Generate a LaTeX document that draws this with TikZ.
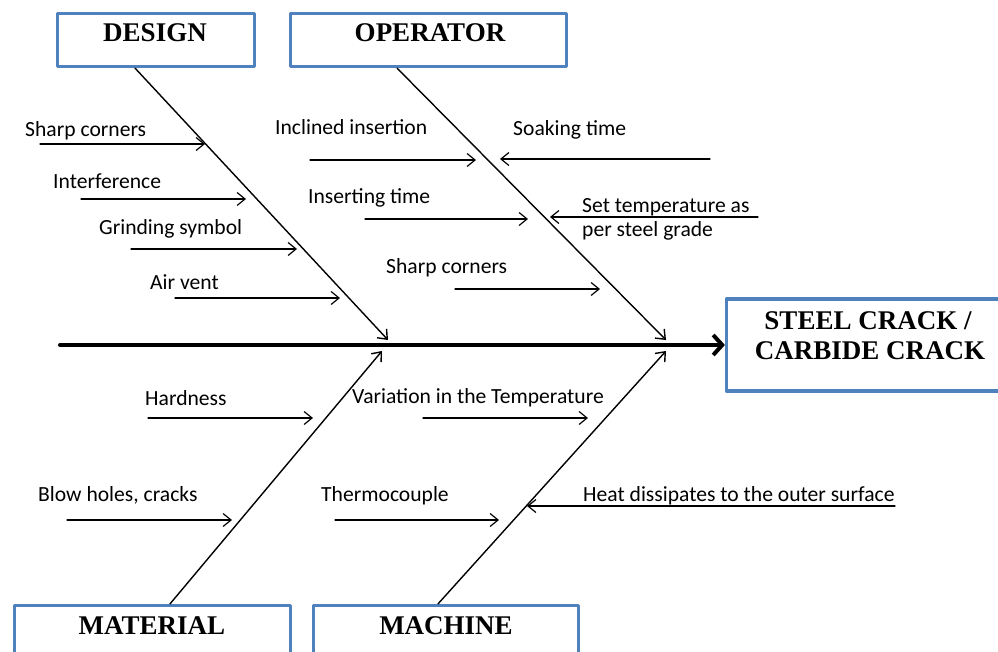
\documentclass[tikz,border=0pt]{standalone}
\usepackage{fontspec}
\setmainfont{Liberation Serif}
\newfontfamily\causefont{Carlito}
\usetikzlibrary{arrows.meta}
\definecolor{boxblue}{RGB}{79,129,189}
\tikzset{
	catbox/.style={draw=boxblue,line width=3.2pt,inner sep=0pt},
	cattext/.style={font=\fontsize{27}{30}\selectfont\bfseries,inner sep=0pt,anchor=base},
	causetext/.style={font=\causefont\fontsize{21.6}{24}\selectfont,inner sep=0pt,anchor=base west},
	cause/.style={line width=1.2pt,-{Straight Barb[length=8pt,width=13pt]}},
	bone/.style={line width=1.4pt,-{Straight Barb[length=8pt,width=13pt]}},
	spine/.style={line width=4pt,-{Straight Barb[length=9pt,width=20pt]}}
}

\begin{document}
\begin{tikzpicture}[line cap=round,line join=round,x=1pt,y=-1pt]
		\useasboundingbox (0,0) rectangle (998,652);
		\clip (0,0) rectangle (998,652);
		\node[catbox,minimum width=197,minimum height=53] (design) at (156,40) {};
		\node[catbox,minimum width=276,minimum height=53] (operator) at (428.5,40) {};
		\node[catbox,minimum width=276,minimum height=60] (material) at (152.5,635.5) {};
		\node[catbox,minimum width=265,minimum height=60] (machine) at (446,635.5) {};
		\node[catbox,minimum width=285,minimum height=92] (effect) at (869,345) {};
		\node[cattext] (designlbl) at (155,42) {DESIGN};
		\node[cattext] (operatorlbl) at (430,42) {OPERATOR};
		\node[cattext] (materiallbl) at (152,634) {MATERIAL};
		\node[cattext] (machinelbl) at (446,634) {MACHINE};
		\node[cattext] (effectlbla) at (868,329) {STEEL CRACK /};
		\node[cattext] (effectlblb) at (870,359) {CARBIDE CRACK};
		\coordinate (tail) at (60,345);
		\draw[spine] (tail) -- (effect.west);
		\coordinate (designend) at (388,340);
		\coordinate (operatorend) at (666,340);
		\coordinate (materialend) at (382,351);
		\coordinate (machineend) at (666,351);
		\draw[bone] ([xshift=-21pt]design.south) -- (designend);
		\draw[bone] ([xshift=-31.5pt]operator.south) -- (operatorend);
		\draw[bone] ([xshift=17.5pt]material.north) -- (materialend);
		\draw[bone] ([xshift=-8pt]machine.north) -- (machineend);
		\coordinate (sharpa) at (40,144); \coordinate (sharpb) at (205,144);
		\coordinate (interfa) at (81,199); \coordinate (interfb) at (246,199);
		\coordinate (grinda) at (131,249); \coordinate (grindb) at (297,249);
		\coordinate (venta) at (175,298); \coordinate (ventb) at (340,298);
		\coordinate (inclina) at (310,160); \coordinate (inclinb) at (476,160);
		\coordinate (soaka) at (710,159); \coordinate (soakb) at (500,159);
		\coordinate (inserta) at (365,219); \coordinate (insertb) at (528,219);
		\coordinate (settempa) at (758,217); \coordinate (settempb) at (550,217);
		\coordinate (cornera) at (455,289); \coordinate (cornerb) at (600,289);
		\coordinate (hardnessa) at (148,418); \coordinate (hardnessb) at (313,418);
		\coordinate (variationa) at (423,418); \coordinate (variationb) at (588,418);
		\coordinate (blowa) at (67,520); \coordinate (blowb) at (232,520);
		\coordinate (thermoa) at (335,520); \coordinate (thermob) at (499,520);
		\coordinate (heata) at (895,506); \coordinate (heatb) at (527,506);
		\draw[cause] (sharpa) -- (sharpb);
		\draw[cause] (interfa) -- (interfb);
		\draw[cause] (grinda) -- (grindb);
		\draw[cause] (venta) -- (ventb);
		\draw[cause] (inclina) -- (inclinb);
		\draw[cause] (soaka) -- (soakb);
		\draw[cause] (inserta) -- (insertb);
		\draw[cause] (settempa) -- (settempb);
		\draw[cause] (cornera) -- (cornerb);
		\draw[cause] (hardnessa) -- (hardnessb);
		\draw[cause] (variationa) -- (variationb);
		\draw[cause] (blowa) -- (blowb);
		\draw[cause] (thermoa) -- (thermob);
		\draw[cause] (heata) -- (heatb);
		\node[causetext] (sharplbl) at (25,136.5) {Sharp corners};
		\node[causetext] (interflbl) at (53,188.5) {Interference};
		\node[causetext] (grindlbl) at (99,234.5) {Grinding symbol};
		\node[causetext] (ventlbl) at (150,289.5) {Air vent};
		\node[causetext] (inclinlbl) at (275,134.5) {Inclined insertion};
		\node[causetext] (soaklbl) at (513,136) {Soaking time};
		\node[causetext] (insertlbl) at (308,203.5) {Inserting time};
		\node[causetext] (settemplbla) at (582,212.5) {Set temperature as};
		\node[causetext] (settemplblb) at (582,236.5) {per steel grade};
		\node[causetext] (cornerlbl) at (386,273.5) {Sharp corners};
		\node[causetext] (hardnesslbl) at (145,405.5) {Hardness};
		\node[causetext] (variationlbl) at (352,403.5) {Variation in the Temperature};
		\node[causetext] (blowlbl) at (38,501.5) {Blow holes, cracks};
		\node[causetext] (thermolbl) at (321,501.5) {Thermocouple};
		\node[causetext] (heatlbl) at (583,501.5) {Heat dissipates to the outer surface};
	\end{tikzpicture}
\end{document}
